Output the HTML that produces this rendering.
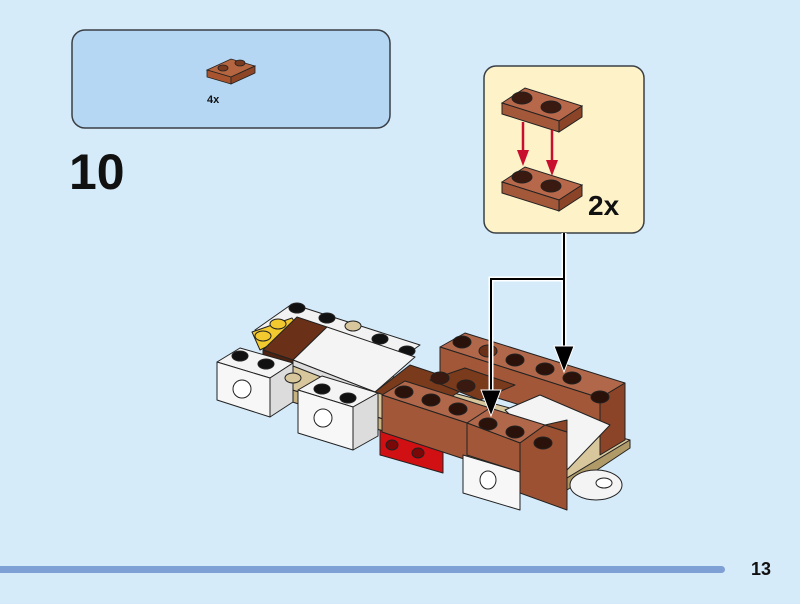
<!DOCTYPE html>
<html><head><meta charset="utf-8"><style>
html,body{margin:0;padding:0;background:#d6ebfa;}
svg{display:block;}
text{font-family:"Liberation Sans",sans-serif;font-weight:bold;fill:#111;}
</style></head><body>
<svg width="800" height="604" viewBox="0 0 800 604" xmlns="http://www.w3.org/2000/svg">
<rect width="800" height="604" fill="#d6ebfa"/>
<!-- parts box -->
<rect x="72" y="30" width="318" height="98" rx="13" fill="#b5d7f3" stroke="#3a3f45" stroke-width="1.5"/>
<g stroke="#222" stroke-width="0.8">
<polygon points="207,70 231,59 255,66 231,77" fill="#b5653f"/>
<polygon points="207,70 231,77 231,84 207,77" fill="#a8552f"/>
<polygon points="231,77 255,66 255,73 231,84" fill="#8e4526"/>
<ellipse cx="223" cy="68" rx="5" ry="3" fill="#7a3a20"/>
<ellipse cx="240" cy="63" rx="5" ry="3" fill="#7a3a20"/>
</g>
<text x="207" y="103" font-size="11">4x</text>
<text x="69" y="189" font-size="50">10</text>
<!-- sub-assembly box -->
<rect x="484" y="66" width="160" height="167" rx="12" fill="#fdf2c8" stroke="#3a3f45" stroke-width="1.5"/>
<g stroke="#222" stroke-width="1">
<polygon points="502,103 525,88 582,106 559,121" fill="#b8684a"/>
<polygon points="502,103 559,121 559,132 502,114" fill="#a4583a"/>
<polygon points="559,121 582,106 582,117 559,132" fill="#8c4428"/>
<ellipse cx="522" cy="98" rx="10" ry="6" fill="#3a1a10"/>
<ellipse cx="551" cy="107" rx="10" ry="6" fill="#3a1a10"/>
<polygon points="502,182 525,167 582,185 559,200" fill="#b8684a"/>
<polygon points="502,182 559,200 559,211 502,193" fill="#a4583a"/>
<polygon points="559,200 582,185 582,196 559,211" fill="#8c4428"/>
<ellipse cx="522" cy="177" rx="10" ry="6" fill="#3a1a10"/>
<ellipse cx="551" cy="186" rx="10" ry="6" fill="#3a1a10"/>
</g>
<g stroke="#c8102e" stroke-width="2.5" fill="#c8102e">
<line x1="523" y1="122" x2="523" y2="152"/><polygon points="517,150 529,150 523,166" stroke="none"/>
<line x1="552" y1="130" x2="552" y2="162"/><polygon points="546,160 558,160 552,176" stroke="none"/>
</g>
<text x="588" y="215" font-size="28">2x</text>
<!-- model -->
<g stroke="#222" stroke-width="1" stroke-linejoin="round">
<!-- tan base strips -->
<polygon points="255,378 300,352 630,440 567,478" fill="#d8c79c"/>
<polygon points="255,378 567,478 567,490 255,390" fill="#c8b380"/>
<polygon points="567,478 630,440 630,448 567,490" fill="#b09a68"/>
<!-- round white plate -->
<ellipse cx="596" cy="485" rx="26" ry="15" fill="#f4f4f4"/>
<ellipse cx="604" cy="483" rx="8" ry="5" fill="#fff"/>
<!-- back white row -->
<polygon points="255,330 292,304 420,345 382,372" fill="#f2f2f2"/>
<polygon points="252,332 292,318 300,330 260,350" fill="#f2c92e"/>
<ellipse cx="297" cy="308" rx="8" ry="5" fill="#111"/>
<ellipse cx="327" cy="318" rx="8" ry="5" fill="#111"/>
<ellipse cx="353" cy="326" rx="8" ry="5" fill="#d8c79c"/>
<ellipse cx="380" cy="339" rx="8" ry="5" fill="#111"/>
<ellipse cx="407" cy="351" rx="8" ry="5" fill="#111"/>
<ellipse cx="278" cy="324" rx="8" ry="5" fill="#f2c92e"/>
<ellipse cx="263" cy="336" rx="8" ry="5" fill="#f2c92e"/>
<!-- dark brown tile -->
<polygon points="263,350 297,317 327,327 293,360" fill="#6a3118"/>
<polygon points="263,350 293,360 293,365 263,355" fill="#4e2210"/>
<!-- white tile -->
<polygon points="293,360 327,327 415,357 375,392" fill="#f4f4f4"/>
<polygon points="293,360 375,392 375,398 293,366" fill="#ddd"/>
<!-- left white technic brick -->
<polygon points="217,362 240,348 293,363 270,378" fill="#f4f4f4"/>
<polygon points="217,362 270,378 270,417 217,400" fill="#f7f7f7"/>
<polygon points="270,378 293,363 293,402 270,417" fill="#dcdcdc"/>
<ellipse cx="242" cy="389" rx="9" ry="9" fill="#fff"/>
<ellipse cx="240" cy="356" rx="8" ry="5" fill="#111"/>
<ellipse cx="266" cy="364" rx="8" ry="5" fill="#111"/>
<ellipse cx="293" cy="378" rx="8" ry="5" fill="#d8c79c"/>
<!-- middle white technic brick -->
<polygon points="298,390 322,376 378,393 353,407" fill="#f4f4f4"/>
<polygon points="298,390 353,407 353,450 298,433" fill="#f7f7f7"/>
<polygon points="353,407 378,393 378,436 353,450" fill="#dcdcdc"/>
<ellipse cx="323" cy="418" rx="9" ry="9" fill="#fff"/>
<ellipse cx="322" cy="389" rx="8" ry="5" fill="#111"/>
<ellipse cx="348" cy="398" rx="8" ry="5" fill="#111"/>
<!-- red brick -->
<polygon points="380,430 443,450 443,473 380,455" fill="#d01012"/>
<ellipse cx="392" cy="445" rx="6" ry="5" fill="#7a0808"/>
<ellipse cx="418" cy="453" rx="6" ry="5" fill="#7a0808"/>
<!-- dark brown middle -->
<polygon points="375,392 410,365 470,385 430,410" fill="#7a3a1c"/>
<!-- back brown brick row -->
<polygon points="440,347 465,333 625,383 600,398" fill="#b0674a"/>
<polygon points="440,347 600,398 600,430 440,380" fill="#a25838"/>
<polygon points="600,398 625,383 625,440 600,455" fill="#8c4428"/>
<ellipse cx="462" cy="342" rx="9" ry="6" fill="#2a120a"/>
<ellipse cx="488" cy="351" rx="9" ry="6" fill="#6a3118"/>
<ellipse cx="515" cy="360" rx="9" ry="6" fill="#2a120a"/>
<ellipse cx="545" cy="369" rx="9" ry="6" fill="#2a120a"/>
<ellipse cx="572" cy="378" rx="9" ry="6" fill="#2a120a"/>
<ellipse cx="600" cy="397" rx="9" ry="6" fill="#2a120a"/>
<!-- white tile right -->
<polygon points="505,410 540,395 610,425 567,470" fill="#f4f4f4"/>
<!-- dark brown plate back -->
<polygon points="430,380 465,368 515,385 480,400" fill="#7a3a1c"/>
<ellipse cx="440" cy="378" rx="9" ry="6" fill="#3a1a10"/>
<ellipse cx="466" cy="386" rx="9" ry="6" fill="#3a1a10"/>
<!-- front brown brick -->
<polygon points="382,395 405,381 490,408 467,423" fill="#b0674a"/>
<polygon points="382,395 467,423 467,460 382,432" fill="#a25838"/>
<ellipse cx="404" cy="392" rx="9" ry="6" fill="#2a120a"/>
<ellipse cx="431" cy="400" rx="9" ry="6" fill="#2a120a"/>
<ellipse cx="458" cy="409" rx="9" ry="6" fill="#2a120a"/>
<!-- white technic under front -->
<polygon points="463,455 520,472 520,510 463,493" fill="#f7f7f7"/>
<ellipse cx="488" cy="480" rx="8" ry="9" fill="#fff"/>
<!-- front brown plate + 1x1 -->
<polygon points="467,423 490,408 545,425 520,443" fill="#b0674a"/>
<polygon points="467,423 520,443 520,472 467,455" fill="#a25838"/>
<polygon points="520,443 545,425 567,432 567,510 520,493" fill="#9c5232"/>
<polygon points="545,425 567,420 567,432" fill="#8c4428"/>
<ellipse cx="488" cy="424" rx="9" ry="6" fill="#2a120a"/>
<ellipse cx="515" cy="432" rx="9" ry="6" fill="#2a120a"/>
<ellipse cx="543" cy="443" rx="9" ry="6" fill="#2a120a"/>
</g>
<!-- arrows -->
<g fill="none" stroke="#fff" stroke-width="5">
<path d="M564,233 V350 M564,279 H491 V392"/>
</g>
<g fill="none" stroke="#000" stroke-width="2">
<path d="M564,233 V350 M564,279 H491 V392"/>
</g>
<polygon points="554,346 574,346 564,372" fill="#000" stroke="#fff" stroke-width="1"/>
<polygon points="481,390 501,390 491,416" fill="#000" stroke="#fff" stroke-width="1"/>
<!-- footer -->
<rect x="-10" y="566" width="735" height="7" rx="3.5" fill="#7fa0d4"/>
<text x="751" y="575" font-size="18">13</text>
</svg>
</body></html>
